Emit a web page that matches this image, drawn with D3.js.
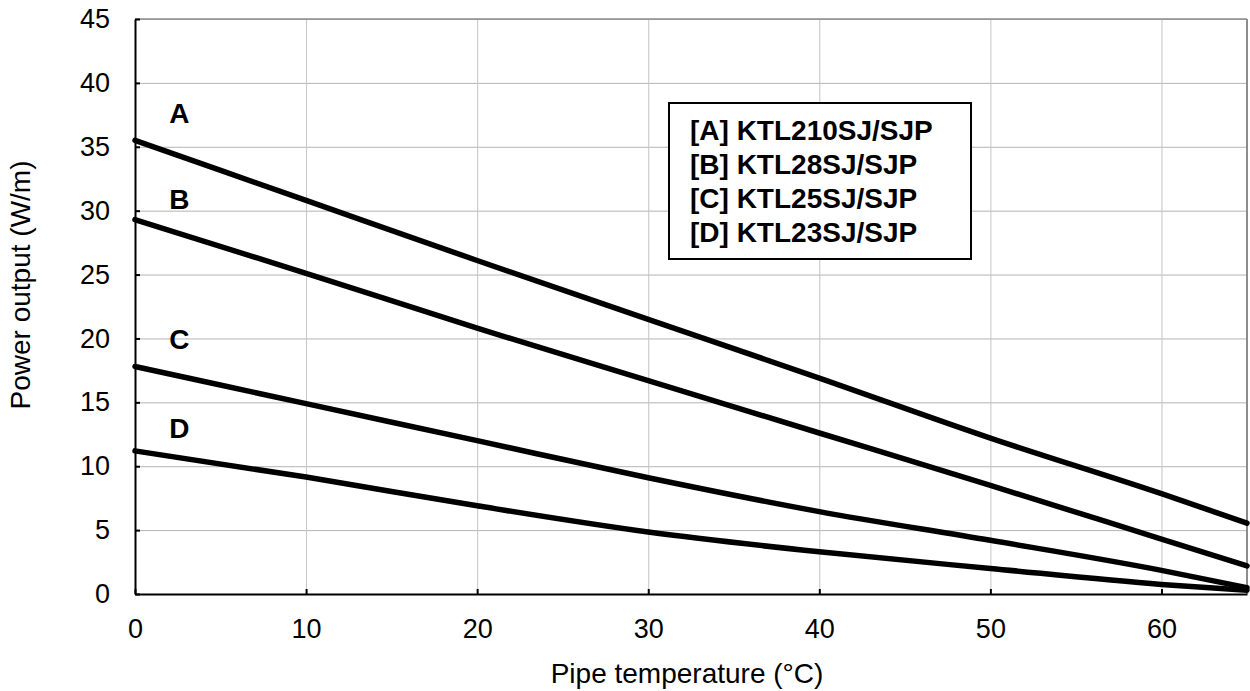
<!DOCTYPE html>
<html>
<head>
<meta charset="utf-8">
<script src="https://cdn.jsdelivr.net/npm/d3@7"></script>
<style>
  body { margin: 0; background: #fff; }
  text { font-family: Arial, "Liberation Sans", sans-serif; }
</style>
</head>
<body>
<div id="myPlot"></div>
<script>
// Set Dimensions
const xSize = 1250;
const ySize = 691;
const margin = { top: 19, right: 3, bottom: 97, left: 135 };
const xMax = xSize - margin.left - margin.right;
const yMax = ySize - margin.top - margin.bottom;

// Data
const temps = [0, 10, 20, 30, 40, 50, 60, 65];
const series_a = [35.5, 30.8, 26.1, 21.5, 16.9, 12.2, 7.85, 5.55];
const series_b = [29.3, 25.1, 20.8, 16.7, 12.6, 8.5, 4.3, 2.2];
const series_c = [17.8, 14.9, 12.0, 9.1, 6.45, 4.2, 1.85, 0.5];
const series_d = [11.2, 9.15, 6.9, 4.85, 3.3, 2.0, 0.75, 0.3];
const xTicks = [0, 10, 20, 30, 40, 50, 60];
const yTicks = [0, 5, 10, 15, 20, 25, 30, 35, 40, 45];
const curve_labels = ["A", "B", "C", "D"];
const label_pos = [[2.6, 36.85], [2.6, 30.1], [2.6, 19.2], [2.6, 12.2]];
const legend_items = ["[A] KTL210SJ/SJP", "[B] KTL28SJ/SJP", "[C] KTL25SJ/SJP", "[D] KTL23SJ/SJP"];

const svg = d3.select("#myPlot")
  .append("svg")
  .attr("width", xSize)
  .attr("height", ySize)
  .append("g")
  .attr("transform", "translate(" + margin.left + "," + margin.top + ")");

// Scales
const x = d3.scaleLinear().domain([0, 65]).range([0, xMax]);
const y = d3.scaleLinear().domain([0, 45]).range([yMax, 0]);

// Grid lines
svg.append("g")
  .attr("class", "grid")
  .call(d3.axisLeft(y).tickValues(yTicks).tickSize(-xMax).tickFormat(""))
  .call(g => g.select(".domain").remove())
  .selectAll("line")
  .attr("stroke", "#b4b4b4");

svg.append("g")
  .attr("class", "grid")
  .attr("transform", `translate(0, ${yMax})`)
  .call(d3.axisBottom(x).tickValues(xTicks).tickSize(-yMax).tickFormat(""))
  .call(g => g.select(".domain").remove())
  .selectAll("line")
  .attr("stroke", "#c4c4c4");

// Top and right frame
svg.append("line")
  .attr("x1", 0).attr("x2", xMax)
  .attr("y1", 0).attr("y2", 0)
  .attr("stroke", "#8c8c8c").attr("stroke-width", 1.5);

svg.append("line")
  .attr("x1", xMax).attr("x2", xMax)
  .attr("y1", 0).attr("y2", yMax)
  .attr("stroke", "#8c8c8c").attr("stroke-width", 2);

// Axes
svg.append("g")
  .attr("class", "x-axis")
  .attr("transform", `translate(0, ${yMax})`)
  .call(d3.axisBottom(x).tickValues(xTicks).tickSizeInner(-5).tickSizeOuter(0).tickPadding(25))
  .call(g => g.selectAll("text").style("font-size", "27px").attr("fill", "#000"))
  .call(g => g.selectAll("line,path").attr("stroke", "#000").attr("stroke-width", 2));

svg.append("g")
  .attr("class", "y-axis")
  .call(d3.axisLeft(y).tickValues(yTicks).tickSizeInner(-5).tickSizeOuter(0).tickPadding(25))
  .call(g => g.selectAll("text").style("font-size", "27px").attr("fill", "#000"))
  .call(g => g.selectAll("line,path").attr("stroke", "#000").attr("stroke-width", 2));

// Axis labels
svg.append("text")
  .attr("x", xMax / 2 - 4)
  .attr("y", yMax + 89)
  .style("font-size", "28px")
  .style("text-anchor", "middle")
  .text("Pipe temperature (°C)");

svg.append("text")
  .attr("transform", "rotate(-90)")
  .attr("x", -266)
  .attr("y", -105)
  .style("font-size", "28px")
  .style("text-anchor", "middle")
  .text("Power output (W/m)");

// Curves
const line = d3.line()
  .x((d, i) => x(temps[i]))
  .y(d => y(d))
  .curve(d3.curveMonotoneX);

[series_a, series_b, series_c, series_d].forEach(s => {
  svg.append("path")
    .datum(s)
    .attr("d", line)
    .attr("fill", "none")
    .attr("stroke", "#000")
    .attr("stroke-width", 5.5)
    .attr("stroke-linecap", "round")
    .attr("stroke-linejoin", "round");
});

// Curve letters
svg.selectAll(".curve-label")
  .data(curve_labels)
  .enter()
  .append("text")
  .attr("class", "curve-label")
  .attr("x", (d, i) => x(label_pos[i][0]))
  .attr("y", (d, i) => y(label_pos[i][1]))
  .style("font-size", "28px")
  .style("font-weight", "bold")
  .style("text-anchor", "middle")
  .text(d => d);

// Legend box
const legend = svg.append("g")
  .attr("class", "legend")
  .attr("transform", `translate(${669 - margin.left}, ${103 - margin.top})`);

legend.append("rect")
  .attr("x", 0)
  .attr("y", 0)
  .attr("width", 302)
  .attr("height", 156)
  .attr("fill", "#fff")
  .attr("stroke", "#000")
  .attr("stroke-width", 2);

legend.selectAll("text")
  .data(legend_items)
  .enter()
  .append("text")
  .attr("x", 21)
  .attr("y", (d, i) => 37 + i * 34)
  .style("font-size", "28px")
  .style("font-weight", "bold")
  .text(d => d);
</script>
</body>
</html>
